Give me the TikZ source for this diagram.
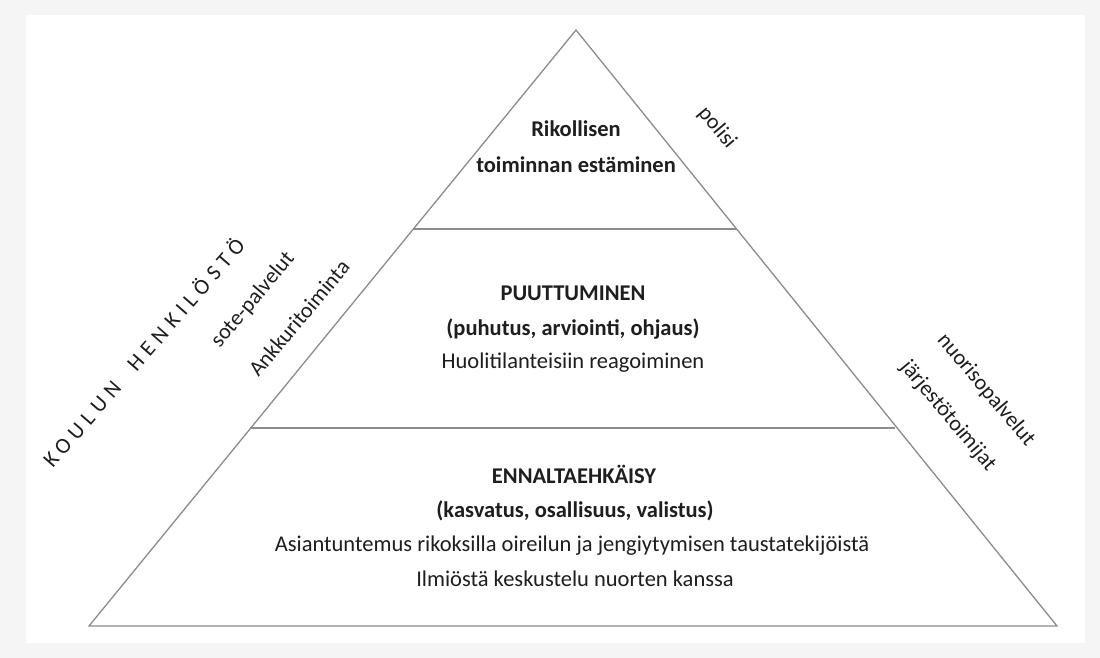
\documentclass[tikz,border=0pt]{standalone}
\usepackage{fontspec}
\setmainfont{Carlito}
\definecolor{framegray}{HTML}{F5F5F5}
\definecolor{linegray}{HTML}{8C8C8C}
\definecolor{txt}{HTML}{1E1E1E}
\tikzset{
  tier/.style={anchor=base, inner sep=0pt, text=txt, font=\fontsize{22.5}{27}\selectfont},
  tierbold/.style={tier, font=\fontsize{22.5}{27}\selectfont\bfseries},
  sidelabel/.style={anchor=center, inner sep=0pt, text=txt, font=\fontsize{22}{26}\selectfont},
  pyrline/.style={draw=linegray, line width=1.3pt}
}
\begin{document}
\begin{tikzpicture}[x=1pt,y=-1pt]
\useasboundingbox (0,0) rectangle (1100,658);
\fill[framegray] (0,0) rectangle (1100,658);
\fill[white] (26,15) rectangle (1085,643);

% pyramid
\coordinate (apex) at (576,30);
\coordinate (bl) at (89,626);
\coordinate (br) at (1057,626);
\coordinate (l1) at (413,229);
\coordinate (r1) at (737,229);
\coordinate (l2) at (250,428);
\coordinate (r2) at (895,428);
\draw[pyrline, line join=miter] (apex) -- (bl) -- (br) -- cycle;
\draw[pyrline] (l1) -- (r1);
\draw[pyrline] (l2) -- (r2);

% top tier
\node[tierbold] (t1) at (576,137) {Rikollisen};
\node[tierbold] (t2) at (576,172) {toiminnan estäminen};

% middle tier
\node[tierbold] (m1) at (573,300) {PUUTTUMINEN};
\node[tierbold] (m2) at (573,335) {(puhutus, arviointi, ohjaus)};
\node[tier] (m3) at (573,368) {Huolitilanteisiin reagoiminen};

% bottom tier
\node[tierbold] (b1) at (574,483) {ENNALTAEHKÄISY};
\node[tierbold] (b2) at (575,517) {(kasvatus, osallisuus, valistus)};
\node[tier] (b3) at (572,551) {Asiantuntemus rikoksilla oireilun ja jengiytymisen taustatekijöistä};
\node[tier] (b4) at (575,586) {Ilmiöstä keskustelu nuorten kanssa};

% side labels
\node[sidelabel, rotate=49, font=\fontsize{22}{26}\selectfont\addfontfeature{LetterSpace=27}] (koulu) at (143,352) {KOULUN\ \ HENKILÖSTÖ};
\node[sidelabel, rotate=50] (sote) at (253,300) {sote-palvelut};
\node[sidelabel, rotate=50] (ankk) at (299,318) {Ankkuritoiminta};
\node[sidelabel, rotate=-50] (pol) at (717,128) {polisi};
\node[sidelabel, rotate=-50] (nuor) at (986,390) {nuorisopalvelut};
\node[sidelabel, rotate=-50] (jarj) at (948,416) {järjestötoimijat};
\end{tikzpicture}
\end{document}
